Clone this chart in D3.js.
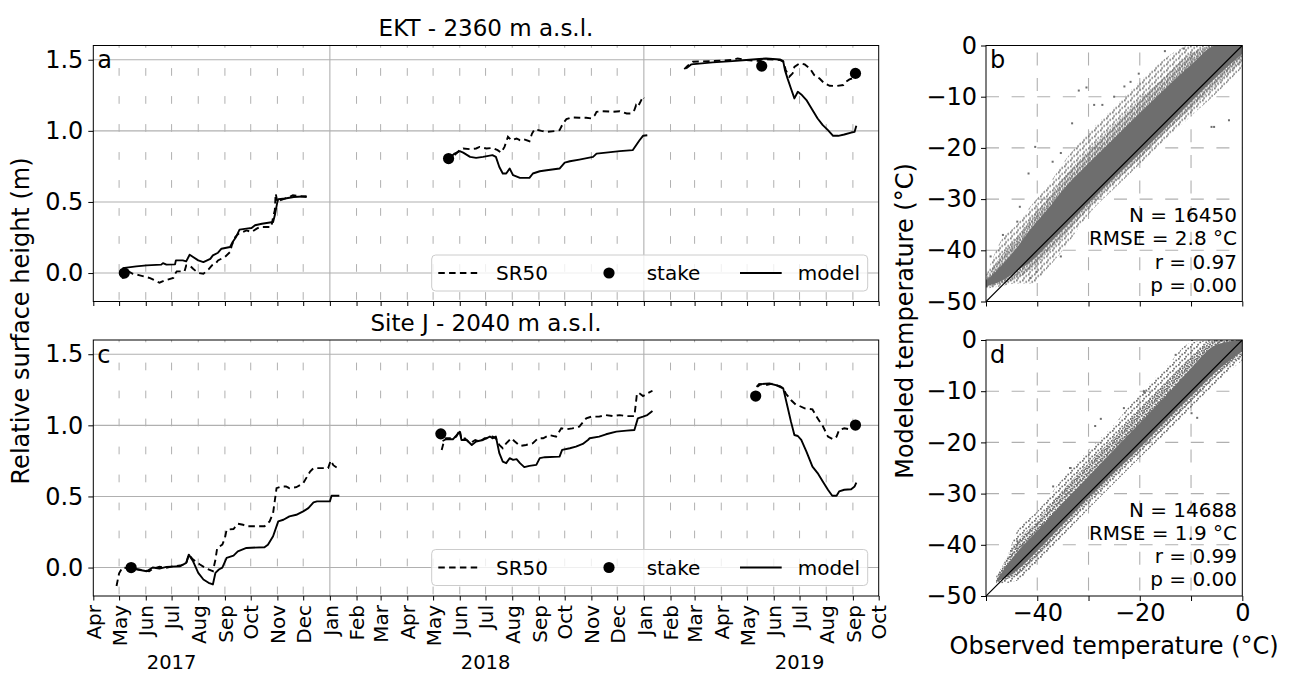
<!DOCTYPE html>
<html>
<head>
<meta charset="utf-8">
<script src="https://cdn.jsdelivr.net/npm/d3@7"></script>
<style>
  body { margin: 0; background: #fff; }
  svg { font-family: "DejaVu Sans", sans-serif; }
</style>
</head>
<body>
<svg id="fig" width="1299" height="675"></svg>
<script>
// ---------- data ----------
// null splits the series into its yearly pieces
const ektSr50 = [
  ["2017-05-05",-0.04],["2017-05-09",0.02],["2017-05-17",-0.005],["2017-05-25",-0.016],
  ["2017-06-06",-0.035],["2017-06-17",-0.068],["2017-06-23",-0.052],["2017-07-03",-0.035],
  ["2017-07-05",-0.005],["2017-07-07",0.012],["2017-07-16",0.012],["2017-07-18",0.054],
  ["2017-07-22",0.054],["2017-07-26",0.03],["2017-08-01",0.0],["2017-08-07",-0.005],
  ["2017-08-13",0.026],["2017-08-17",0.054],["2017-08-21",0.066],["2017-08-24",0.089],
  ["2017-09-01",0.113],["2017-09-07",0.148],["2017-09-09",0.195],["2017-09-13",0.254],
  ["2017-09-17",0.277],["2017-09-22",0.289],["2017-09-26",0.30],["2017-10-02",0.289],
  ["2017-10-08",0.312],["2017-10-12",0.324],["2017-10-25",0.324],["2017-10-27",0.394],
  ["2017-10-29",0.441],["2017-10-30",0.559],["2017-11-01",0.50],["2017-11-04",0.512],
  ["2017-11-15",0.535],["2017-11-19",0.547],["2017-12-05",0.535],
  null,
  ["2018-05-26",0.83],["2018-06-01",0.864],["2018-06-05",0.876],["2018-06-13",0.871],
  ["2018-06-20",0.876],["2018-06-24",0.887],["2018-07-02",0.876],["2018-07-09",0.880],
  ["2018-07-15",0.864],["2018-07-19",0.847],["2018-07-23",0.887],["2018-07-27",0.958],
  ["2018-07-31",0.934],["2018-08-06",0.946],["2018-08-10",0.934],["2018-08-14",0.941],
  ["2018-08-21",0.927],["2018-08-24",0.981],["2018-08-27",1.012],["2018-09-04",1.0],
  ["2018-09-10",0.993],["2018-09-19",0.998],["2018-09-25",1.005],["2018-09-29",1.052],
  ["2018-10-03",1.082],["2018-10-09",1.094],["2018-10-18",1.092],["2018-10-26",1.092],
  ["2018-11-01",1.087],["2018-11-05",1.11],["2018-11-07",1.134],["2018-11-14",1.138],
  ["2018-11-26",1.134],["2018-12-04",1.138],["2018-12-12",1.122],["2018-12-17",1.122],
  ["2018-12-21",1.146],["2018-12-23",1.181],["2018-12-25",1.169],["2018-12-27",1.192],
  ["2018-12-29",1.216],["2018-12-31",1.24],["2019-01-01",1.228],
  null,
  ["2019-02-17",1.434],["2019-02-21",1.458],["2019-02-27",1.486],["2019-03-22",1.491],
  ["2019-04-14",1.498],["2019-04-20",1.509],["2019-04-30",1.498],["2019-05-15",1.491],
  ["2019-05-19",1.505],["2019-06-08",1.498],["2019-06-12",1.486],["2019-06-15",1.427],
  ["2019-06-19",1.38],["2019-06-23",1.404],["2019-06-25",1.45],["2019-07-01",1.474],
  ["2019-07-07",1.467],["2019-07-13",1.439],["2019-07-18",1.392],["2019-07-24",1.369],
  ["2019-07-30",1.333],["2019-08-05",1.317],["2019-08-13",1.315],["2019-08-21",1.322],
  ["2019-08-24",1.345],["2019-08-28",1.362],["2019-09-01",1.37]
];

const ektModel = [
  ["2017-05-05",0.035],["2017-05-21",0.047],["2017-06-02",0.054],["2017-06-19",0.059],
  ["2017-06-21",0.07],["2017-06-25",0.059],["2017-07-05",0.061],["2017-07-06",0.089],
  ["2017-07-14",0.089],["2017-07-18",0.082],["2017-07-22",0.129],["2017-07-26",0.113],
  ["2017-08-01",0.089],["2017-08-07",0.077],["2017-08-15",0.10],["2017-08-18",0.124],
  ["2017-08-24",0.143],["2017-08-28",0.171],["2017-09-07",0.183],["2017-09-10",0.218],
  ["2017-09-14",0.254],["2017-09-18",0.305],["2017-09-26",0.312],["2017-10-02",0.317],
  ["2017-10-06",0.336],["2017-10-14",0.347],["2017-10-27",0.359],["2017-10-29",0.406],
  ["2017-11-01",0.50],["2017-11-02",0.519],["2017-11-10",0.524],["2017-11-20",0.535],
  ["2017-12-05",0.54],
  null,
  ["2018-05-22",0.82],["2018-05-26",0.84],["2018-06-01",0.857],["2018-06-05",0.847],
  ["2018-06-13",0.817],["2018-06-20",0.81],["2018-06-28",0.817],["2018-07-09",0.829],
  ["2018-07-13",0.817],["2018-07-17",0.746],["2018-07-21",0.70],["2018-07-25",0.70],
  ["2018-07-29",0.735],["2018-07-31",0.711],["2018-08-02",0.688],["2018-08-10",0.669],
  ["2018-08-21",0.669],["2018-08-25",0.70],["2018-09-02",0.716],["2018-09-10",0.723],
  ["2018-09-25",0.735],["2018-10-01",0.777],["2018-10-07",0.786],["2018-10-18",0.798],
  ["2018-11-03",0.817],["2018-11-07",0.84],["2018-11-18",0.847],["2018-12-04",0.857],
  ["2018-12-19",0.864],["2018-12-23",0.899],["2018-12-27",0.934],["2018-12-31",0.965],
  ["2019-01-05",0.969],
  null,
  ["2019-02-19",1.439],["2019-02-25",1.467],["2019-03-22",1.481],["2019-04-14",1.49],
  ["2019-04-30",1.498],["2019-05-15",1.505],["2019-05-23",1.509],["2019-06-08",1.502],
  ["2019-06-12",1.49],["2019-06-14",1.427],["2019-06-17",1.369],["2019-06-21",1.298],
  ["2019-06-25",1.228],["2019-06-29",1.275],["2019-07-03",1.256],["2019-07-09",1.216],
  ["2019-07-16",1.146],["2019-07-22",1.087],["2019-07-28",1.04],["2019-08-03",1.005],
  ["2019-08-09",0.965],["2019-08-15",0.965],["2019-08-22",0.974],["2019-08-30",0.988],
  ["2019-09-03",0.993],["2019-09-05",1.035]
];

const ektStake = [["2017-05-07",0.0],["2018-05-19",0.805],["2019-05-18",1.455],["2019-09-04",1.404]];

const siteJSr50 = [
  ["2017-04-28",-0.13],["2017-05-01",-0.04],["2017-05-05",0.0],["2017-05-17",-0.007],
  ["2017-05-29",-0.019],["2017-06-05",-0.026],["2017-06-09",-0.009],["2017-06-17",0.005],
  ["2017-06-25",-0.002],["2017-07-03",0.009],["2017-07-11",0.014],["2017-07-18",0.028],
  ["2017-07-21",0.091],["2017-07-26",0.056],["2017-08-03",0.021],["2017-08-11",-0.009],
  ["2017-08-18",-0.026],["2017-08-21",0.056],["2017-08-23",0.138],["2017-08-29",0.161],
  ["2017-09-01",0.208],["2017-09-03",0.266],["2017-09-11",0.271],["2017-09-16",0.308],
  ["2017-09-22",0.301],["2017-09-26",0.29],["2017-10-17",0.29],["2017-10-23",0.325],
  ["2017-10-27",0.383],["2017-10-31",0.558],["2017-11-06",0.57],["2017-11-11",0.57],
  ["2017-11-15",0.558],["2017-11-23",0.565],["2017-12-01",0.593],["2017-12-09",0.675],
  ["2017-12-13",0.699],["2017-12-30",0.699],["2018-01-02",0.752],["2018-01-05",0.72],
  ["2018-01-10",0.699],
  null,
  ["2018-05-11",0.827],["2018-05-13",0.874],["2018-05-16",0.909],["2018-05-24",0.909],
  ["2018-05-28",0.921],["2018-06-01",0.967],["2018-06-03",0.897],["2018-06-07",0.909],
  ["2018-06-13",0.874],["2018-06-19",0.897],["2018-06-24",0.886],["2018-06-30",0.909],
  ["2018-07-02",0.909],["2018-07-09",0.921],["2018-07-13",0.909],["2018-07-17",0.862],
  ["2018-07-21",0.839],["2018-07-25",0.874],["2018-07-31",0.909],["2018-08-04",0.886],
  ["2018-08-10",0.855],["2018-08-17",0.862],["2018-08-25",0.874],["2018-08-31",0.909],
  ["2018-09-06",0.909],["2018-09-13",0.932],["2018-09-21",0.921],["2018-09-27",0.979],
  ["2018-10-03",0.972],["2018-10-10",0.979],["2018-10-18",0.991],["2018-10-26",1.049],
  ["2018-11-01",1.061],["2018-11-10",1.061],["2018-11-18",1.072],["2018-11-26",1.065],
  ["2018-12-04",1.072],["2018-12-12",1.065],["2018-12-21",1.065],["2018-12-24",1.224],
  ["2018-12-26",1.229],["2018-12-31",1.206],["2019-01-05",1.224],["2019-01-11",1.243],
  null,
  ["2019-05-12",1.271],["2019-05-15",1.29],["2019-05-23",1.283],["2019-05-31",1.294],
  ["2019-06-08",1.271],["2019-06-12",1.26],["2019-06-15",1.224],["2019-06-21",1.178],
  ["2019-06-27",1.143],["2019-07-01",1.136],["2019-07-07",1.119],["2019-07-16",1.112],
  ["2019-07-22",1.049],["2019-07-28",0.995],["2019-08-03",0.921],["2019-08-09",0.902],
  ["2019-08-13",0.921],["2019-08-16",0.967],["2019-08-22",0.979],["2019-08-28",0.972],
  ["2019-09-01",0.991]
];

const siteJModel = [
  ["2017-05-09",0.0],["2017-05-21",-0.012],["2017-06-02",-0.026],["2017-06-09",0.0],
  ["2017-06-17",-0.007],["2017-06-25",0.005],["2017-07-11",0.009],["2017-07-18",0.033],
  ["2017-07-21",0.091],["2017-07-26",0.044],["2017-08-01",-0.037],["2017-08-07",-0.084],
  ["2017-08-13",-0.107],["2017-08-18",-0.119],["2017-08-21",-0.037],["2017-08-25",-0.014],
  ["2017-08-29",0.0],["2017-09-03",0.068],["2017-09-11",0.084],["2017-09-16",0.114],
  ["2017-09-26",0.138],["2017-10-17",0.143],["2017-10-21",0.161],["2017-10-27",0.22],
  ["2017-11-02",0.325],["2017-11-08",0.336],["2017-11-15",0.36],["2017-11-23",0.371],
  ["2017-12-01",0.395],["2017-12-07",0.418],["2017-12-13",0.458],["2017-12-17",0.465],
  ["2018-01-01",0.465],["2018-01-03",0.505],["2018-01-12",0.505],
  null,
  ["2018-05-12",0.89],["2018-05-16",0.902],["2018-05-24",0.902],["2018-06-01",0.955],
  ["2018-06-03",0.897],["2018-06-09",0.897],["2018-06-15",0.862],["2018-06-20",0.886],
  ["2018-06-28",0.897],["2018-07-06",0.921],["2018-07-09",0.909],["2018-07-13",0.921],
  ["2018-07-17",0.804],["2018-07-21",0.745],["2018-07-25",0.734],["2018-07-29",0.769],
  ["2018-08-02",0.757],["2018-08-06",0.762],["2018-08-10",0.734],["2018-08-15",0.706],
  ["2018-08-21",0.715],["2018-08-29",0.722],["2018-09-02",0.769],["2018-09-08",0.776],
  ["2018-09-25",0.78],["2018-09-28",0.827],["2018-10-07",0.839],["2018-10-14",0.85],
  ["2018-10-22",0.869],["2018-10-28",0.897],["2018-10-30",0.909],["2018-11-10",0.921],
  ["2018-11-18",0.937],["2018-11-30",0.956],["2018-12-12",0.963],["2018-12-21",0.967],
  ["2018-12-25",1.049],["2018-12-31",1.061],["2019-01-05",1.072],["2019-01-11",1.1],
  null,
  ["2019-05-13",1.271],["2019-05-17",1.29],["2019-05-27",1.294],["2019-06-08",1.276],
  ["2019-06-12",1.26],["2019-06-17",1.131],["2019-06-21",1.026],["2019-06-25",0.932],
  ["2019-06-29",0.925],["2019-07-03",0.897],["2019-07-09",0.815],["2019-07-16",0.71],
  ["2019-07-22",0.664],["2019-07-28",0.605],["2019-08-03",0.547],["2019-08-08",0.505],
  ["2019-08-13",0.505],["2019-08-16",0.535],["2019-08-22",0.547],["2019-08-30",0.551],
  ["2019-09-03",0.57],["2019-09-05",0.598]
];

const siteJStake = [["2017-05-15",0.0],["2018-05-10",0.94],["2019-05-11",1.206],["2019-09-04",1.002]];

// scatter clouds: at each observed temperature, the modeled spread
// for the sparse edge, the middle zone and the dense core (upper / lower)
const ektObs      = [-50, -47, -44, -41, -38, -35, -30, -25, -20, -15, -10, -5, 0];
const ektOuterHi  = [-45, -38, -35, -31, -27.5, -23, -17, -12, -7, -2.5, 0, 0, 0];
const ektOuterLo  = [-47.5, -47, -46.5, -46.5, -43.5, -40, -33, -28, -23.2, -18.3, -13.8, -9.3, -4.3];
const ektMidHi    = [-45.5, -41, -37.5, -33.5, -30, -26, -20.5, -15.5, -10.5, -6, -1.5, 0, 0];
const ektMidLo    = [-47.3, -46.5, -45.5, -43.5, -40.5, -37.5, -31.8, -26.8, -22.1, -17, -12.3, -7.6, -3];
const ektCoreHi   = [-46, -43, -39.5, -35.5, -32, -28.2, -23, -18.1, -13.2, -8.4, -3.8, 0, 0];
const ektCoreLo   = [-47, -46, -44, -42, -39, -36, -30.8, -25.9, -21.1, -16.2, -11, -6.1, -1.6];
const ektOutliers = [[-49.1,-41.2],[-46.7,-37],[-43.9,-34.4],[-43.4,-31.5],[-41.7,-25],[-40.4,-19.8],
  [-37,-22.7],[-35.4,-21],[-33.2,-15.2],[-31.9,-8.8],[-30.4,-8.2],[-28.9,-11.6],[-27.3,-11.6],
  [-25,-10],[-23,-8],[-21.8,-7.1],[-20.2,-5.5],[-15.1,-1.1],[-11.4,-0.6],[-41.3,-45.4],
  [-40.1,-44.2],[-35.4,-41.2],[-6,-15.9],[-5.5,-15.9],[-2.6,-14.6]];

const sjObs      = [-48, -47, -44, -40, -35, -30, -25, -20, -15, -10, -5, 0];
const sjOuterHi  = [-46, -45, -37.5, -33.5, -27, -21.5, -16.5, -10.5, -5.5, -0.5, 0, 0];
const sjOuterLo  = [-47.5, -47.5, -47, -43.5, -38.3, -33, -28, -23, -18.3, -13.3, -8.3, -4];
const sjMidHi    = [-46.5, -44.5, -39.5, -35.3, -29.3, -24, -19, -13.5, -8.3, -3.3, 0, 0];
const sjMidLo    = [-47.3, -47, -46, -42.3, -37, -31.6, -26.6, -21.8, -17, -12, -7, -3];
const sjCoreHi   = [-47, -45.5, -41.5, -37.3, -31.8, -26.6, -21.4, -16.2, -11, -5.5, -0.9, 0];
const sjCoreLo   = [-47.2, -46.8, -45, -41.2, -36, -30.8, -25.9, -21.1, -15.9, -11, -6.1, -2.2];
const sjOutliers = [[-44.1,-40.7],[-43.9,-39.3],[-40.1,-37.8],[-40,-36],[-36.9,-28.6],[-33.6,-25],
  [-33.5,-25],[-28.7,-16.8],[-27.6,-15.4],[-23.1,-13.3],[-19.2,-10],[-19,-10.3],[-13,-2.9],
  [-9.8,0],[-9.9,-14.3],[-8.8,-15.2]];

const monthFmt = d3.utcFormat("%b");
const years = ["2017", "2018", "2019"];

// ---------- layout ----------
const parse = d3.utcParse("%Y-%m-%d");
const svg = d3.select("#fig");
const font = "DejaVu Sans";
const gridColor = "#b0b0b0";
const dotColor = "#6e6e6e";

const left = {x: 93.3, w: 785.4, h: 256};
const right = {x: 986, w: 256.3, h: 256};
const rowTop = [45.5, 340];

let x = d3.scaleUtc()
  .domain([parse("2017-04-01"), parse("2019-10-01")])
  .range([0, left.w]);
let y = d3.scaleLinear().domain([-0.2, 1.6]).range([left.h, 0]);
let months = d3.utcMonth.range(parse("2017-04-01"), parse("2019-10-02"));

let rx = d3.scaleLinear().domain([-50, 0]).range([0, right.w]);
let ry = d3.scaleLinear().domain([-50, 0]).range([right.h, 0]);

function translate(a, b) {
  return "translate(" + a + "," + b + ")";
}

// speckle textures for the thinner parts of the point clouds
let defs = svg.append("defs");
function speckle(id, size, dots) {
  let p = defs.append("pattern").attr("id", id)
    .attr("patternUnits", "userSpaceOnUse")
    .attr("width", size).attr("height", size);
  dots.forEach(d => p.append("rect")
    .attr("x", d[0]).attr("y", d[1]).attr("width", 1.7).attr("height", 1.7)
    .attr("fill", dotColor));
}
speckle("sparse", 6, [[0, 0], [3.4, 1.6], [1.2, 3.8]]);
speckle("medium", 5, [[0, 0], [2.6, 1.2], [0.9, 2.7], [3.4, 3.6]]);

function prep(series) {
  return series.map(d => d === null ? null : {date: parse(d[0]), v: d[1]});
}

let line = d3.line()
  .defined(d => d !== null)
  .x(d => x(d.date))
  .y(d => y(d.v));

function drawSeries(top, title, letter, sr50, model, stakes, showLabels) {
  let g = svg.append("g").attr("transform", translate(left.x, top));
  let id = "clip" + letter;
  g.append("clipPath").attr("id", id)
    .append("rect").attr("width", left.w).attr("height", left.h);

  // minor (monthly) dashed grid
  g.selectAll(".minor")
    .data(months.filter((m, i) => m.getUTCMonth() !== 0 && i > 0 && i < months.length - 1))
    .enter().append("line")
    .attr("x1", d => x(d)).attr("x2", d => x(d))
    .attr("y1", left.h).attr("y2", 0)
    .attr("stroke", gridColor).attr("stroke-width", 1)
    .attr("stroke-dasharray", "7.7,20.3").attr("stroke-dashoffset", 26.3);

  // major grid
  g.selectAll(".hgrid").data([0, 0.5, 1, 1.5]).enter().append("line")
    .attr("x1", 0).attr("x2", left.w)
    .attr("y1", d => y(d)).attr("y2", d => y(d))
    .attr("stroke", gridColor).attr("stroke-width", 1.1);
  g.selectAll(".vgrid").data(months.filter(m => m.getUTCMonth() === 0)).enter().append("line")
    .attr("x1", d => x(d)).attr("x2", d => x(d))
    .attr("y1", 0).attr("y2", left.h)
    .attr("stroke", gridColor).attr("stroke-width", 1.1);

  let plot = g.append("g").attr("clip-path", "url(#" + id + ")");
  plot.append("path").datum(prep(sr50))
    .attr("fill", "none").attr("stroke", "#000").attr("stroke-width", 1.9)
    .attr("stroke-dasharray", "6.5,4.3")
    .attr("d", line);
  plot.append("path").datum(prep(model))
    .attr("fill", "none").attr("stroke", "#000").attr("stroke-width", 1.9)
    .attr("stroke-linejoin", "round")
    .attr("d", line);
  plot.selectAll(".stake").data(prep(stakes)).enter().append("circle")
    .attr("cx", d => x(d.date)).attr("cy", d => y(d.v)).attr("r", 5.6)
    .attr("fill", "#000");

  // legend
  let lg = g.append("g").attr("transform", translate(338.4, 209.5));
  lg.append("rect").attr("width", 436).attr("height", 36).attr("rx", 4)
    .attr("fill", "#fff").attr("fill-opacity", 0.8)
    .attr("stroke", "#cccccc").attr("stroke-width", 1);
  lg.append("line").attr("x1", 6.6).attr("x2", 48.3).attr("y1", 18).attr("y2", 18)
    .attr("stroke", "#000").attr("stroke-width", 1.9).attr("stroke-dasharray", "6.5,4.3");
  lg.append("circle").attr("cx", 177.3).attr("cy", 18).attr("r", 5.6).attr("fill", "#000");
  lg.append("line").attr("x1", 308.3).attr("x2", 350).attr("y1", 18).attr("y2", 18)
    .attr("stroke", "#000").attr("stroke-width", 1.9);
  lg.selectAll(".lt").data([["SR50", 64.3], ["stake", 215], ["model", 366]]).enter()
    .append("text")
    .attr("x", d => d[1]).attr("y", 18).attr("dy", "0.36em")
    .attr("font-size", 20).attr("font-family", font)
    .text(d => d[0]);

  // axes
  let yAxis = d3.axisLeft(y).tickValues([0, 0.5, 1, 1.5])
    .tickFormat(d3.format(".1f")).tickSize(5).tickPadding(5);
  let yGroup = g.append("g").call(yAxis);
  yGroup.select(".domain").remove();
  yGroup.selectAll("text").attr("font-size", 24).attr("font-family", font).attr("fill", "#000");

  let xAxis = d3.axisBottom(x).tickValues(months).tickSize(4.5).tickFormat(monthFmt);
  let xGroup = g.append("g").attr("transform", translate(0, left.h)).call(xAxis);
  xGroup.select(".domain").remove();
  if (showLabels) {
    xGroup.selectAll("text")
      .attr("transform", "rotate(-90)")
      .attr("text-anchor", "end")
      .attr("x", -9).attr("y", 0).attr("dy", "0.36em")
      .attr("font-size", 20).attr("font-family", font).attr("fill", "#000");
    g.selectAll(".year").data(years).enter().append("text")
      .attr("x", d => x(parse(d + "-07-01")))
      .attr("y", 328.5).attr("text-anchor", "middle")
      .attr("font-size", 19.5).attr("font-family", font)
      .text(d => d);
  } else {
    xGroup.selectAll("text").remove();
  }

  g.append("rect").attr("width", left.w).attr("height", left.h)
    .attr("fill", "none").attr("stroke", "#000").attr("stroke-width", 1);

  g.append("text").attr("x", left.w / 2).attr("y", -9.5)
    .attr("text-anchor", "middle").attr("font-size", 23).attr("font-family", font)
    .text(title);
  g.append("text").attr("x", 4).attr("y", 22.5)
    .attr("font-size", 24).attr("font-family", font).text(letter);
}

function band(obs, hi, lo) {
  return obs.map((o, i) => ({o: o, hi: hi[i], lo: lo[i]}));
}

function drawScatter(top, letter, obs, layers, outliers, stats, showLabels) {
  let g = svg.append("g").attr("transform", translate(right.x, top));
  let id = "clip" + letter;
  g.append("clipPath").attr("id", id)
    .append("rect").attr("width", right.w).attr("height", right.h);

  let grid = [-40, -30, -20, -10];
  g.selectAll(".hg").data(grid).enter().append("line")
    .attr("x1", 0).attr("x2", right.w).attr("y1", d => ry(d)).attr("y2", d => ry(d))
    .attr("stroke", gridColor).attr("stroke-width", 1.1).attr("stroke-dasharray", "13,12.6");
  g.selectAll(".vg").data(grid).enter().append("line")
    .attr("x1", d => rx(d)).attr("x2", d => rx(d)).attr("y1", right.h).attr("y2", 0)
    .attr("stroke", gridColor).attr("stroke-width", 1.1).attr("stroke-dasharray", "13,12.6")
    .attr("stroke-dashoffset", 20);

  let area = d3.area()
    .x(d => rx(d.o)).y0(d => ry(d.lo)).y1(d => ry(d.hi))
    .curve(d3.curveMonotoneX);

  let plot = g.append("g").attr("clip-path", "url(#" + id + ")");
  let fills = ["url(#sparse)", "url(#medium)", dotColor];
  layers.forEach((l, i) => {
    plot.append("path").datum(band(obs, l[0], l[1]))
      .attr("fill", fills[i]).attr("d", area);
  });
  plot.selectAll(".pt").data(outliers).enter().append("rect")
    .attr("x", d => rx(d[0]) - 1).attr("y", d => ry(d[1]) - 1)
    .attr("width", 2).attr("height", 2).attr("fill", dotColor);
  plot.append("line")
    .attr("x1", rx(-50)).attr("y1", ry(-50)).attr("x2", rx(0)).attr("y2", ry(0))
    .attr("stroke", "#000").attr("stroke-width", 1.2);

  let yAxis = d3.axisLeft(ry).tickValues([0, -10, -20, -30, -40, -50])
    .tickSize(5).tickPadding(4);
  let yGroup = g.append("g").call(yAxis);
  yGroup.select(".domain").remove();
  yGroup.selectAll("text").attr("font-size", 24).attr("font-family", font).attr("fill", "#000");

  let fmt = d3.format("d");
  let xAxis = d3.axisBottom(rx).tickValues([-50, -40, -30, -20, -10, 0])
    .tickSize(5).tickPadding(3)
    .tickFormat(d => (showLabels && d % 20 === 0) ? fmt(d) : "");
  let xGroup = g.append("g").attr("transform", translate(0, right.h)).call(xAxis);
  xGroup.select(".domain").remove();
  xGroup.selectAll("text").attr("font-size", 24).attr("font-family", font).attr("fill", "#000");

  g.append("rect").attr("width", right.w).attr("height", right.h)
    .attr("fill", "none").attr("stroke", "#000").attr("stroke-width", 1);

  g.append("text").attr("x", 4).attr("y", 22.5)
    .attr("font-size", 24).attr("font-family", font).text(letter);

  g.selectAll(".stat").data(stats).enter().append("text")
    .attr("x", 251).attr("y", (d, i) => 176.5 + i * 23.3)
    .attr("text-anchor", "end").attr("font-size", 20).attr("font-family", font)
    .text(d => d);
}

drawSeries(rowTop[0], "EKT - 2360 m a.s.l.", "a", ektSr50, ektModel, ektStake, false);
drawSeries(rowTop[1], "Site J - 2040 m a.s.l.", "c", siteJSr50, siteJModel, siteJStake, true);

drawScatter(rowTop[0], "b", ektObs,
  [[ektOuterHi, ektOuterLo], [ektMidHi, ektMidLo], [ektCoreHi, ektCoreLo]],
  ektOutliers, ["N = 16450", "RMSE = 2.8 °C", "r = 0.97", "p = 0.00"], false);
drawScatter(rowTop[1], "d", sjObs,
  [[sjOuterHi, sjOuterLo], [sjMidHi, sjMidLo], [sjCoreHi, sjCoreLo]],
  sjOutliers, ["N = 14688", "RMSE = 1.9 °C", "r = 0.99", "p = 0.00"], true);

// shared axis labels
svg.append("text")
  .attr("transform", translate(29, 321) + " rotate(-90)")
  .attr("text-anchor", "middle").attr("font-size", 24).attr("font-family", font)
  .text("Relative surface height (m)");
svg.append("text")
  .attr("transform", translate(913, 321) + " rotate(-90)")
  .attr("text-anchor", "middle").attr("font-size", 24).attr("font-family", font)
  .text("Modeled temperature (°C)");
svg.append("text")
  .attr("x", right.x + right.w / 2).attr("y", 654)
  .attr("text-anchor", "middle").attr("font-size", 24).attr("font-family", font)
  .text("Observed temperature (°C)");
</script>
</body>
</html>
